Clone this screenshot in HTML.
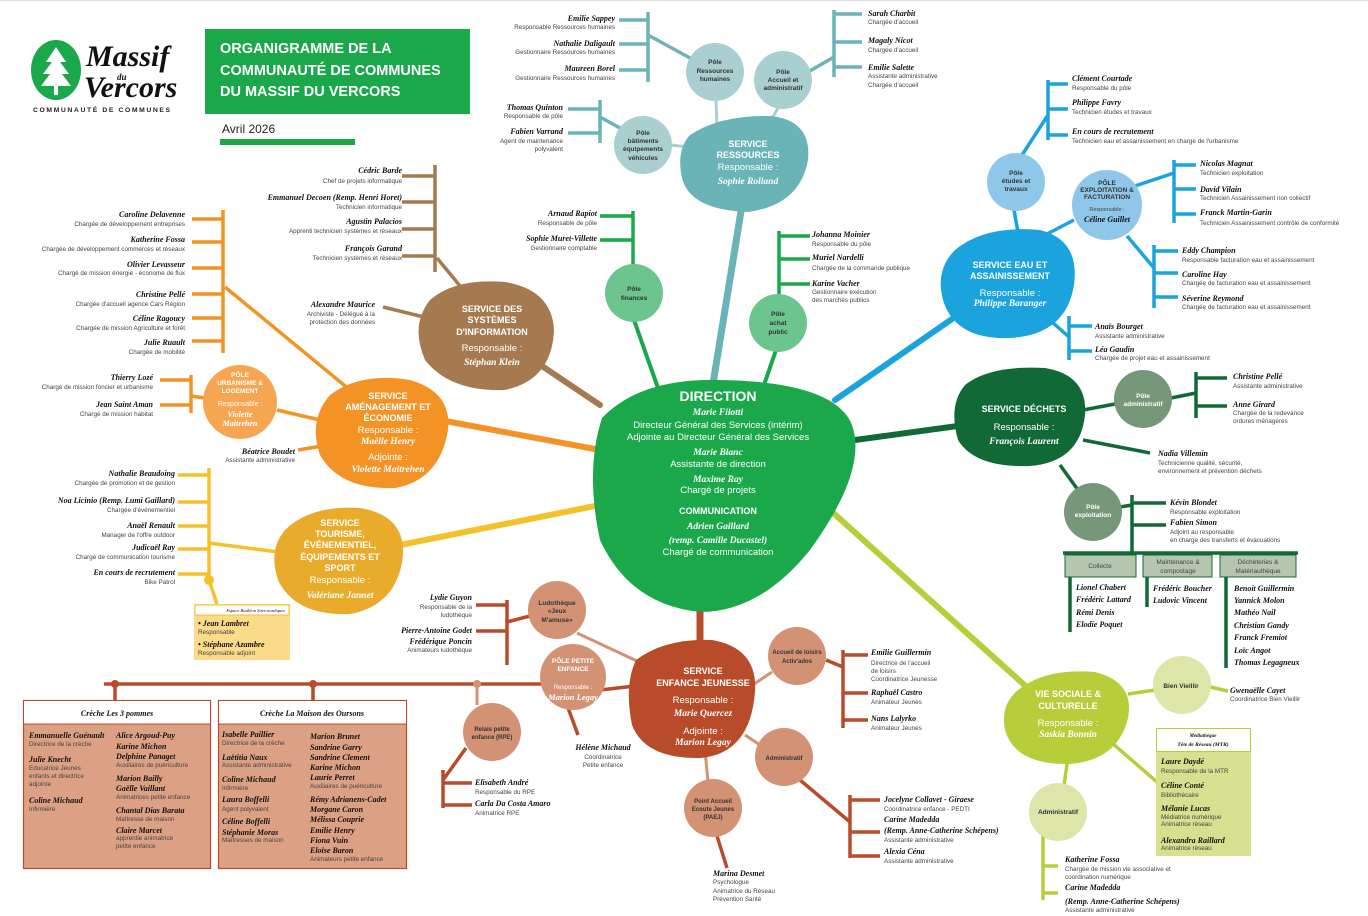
<!DOCTYPE html>
<html><head><meta charset="utf-8"><style>
html,body{margin:0;padding:0;background:#fff;width:1368px;height:916px;overflow:hidden}
svg{display:block}
.n{font:italic bold 8px "Liberation Serif",serif;fill:#111}
.r{font:6.3px "Liberation Sans",sans-serif;fill:#444}
.e{text-anchor:end}
.m{text-anchor:middle}
.ct{font:bold 6.5px "Liberation Sans",sans-serif;fill:#333;text-anchor:middle}
.cw{font:bold 6.5px "Liberation Sans",sans-serif;fill:#fff;text-anchor:middle}
.bt{font:bold 9px "Liberation Sans",sans-serif;fill:#fff;text-anchor:middle}
.bs{font:9.5px "Liberation Sans",sans-serif;fill:#fff;text-anchor:middle}
.bn{font:italic bold 9.5px "Liberation Serif",serif;fill:#fff;text-anchor:middle}
</style></head><body>
<svg width="1368" height="916" viewBox="0 0 1368 916" xmlns="http://www.w3.org/2000/svg">
<rect x="0" y="0" width="1368" height="1" fill="#ddd"/>
<!-- HEADER -->
<ellipse cx="56" cy="70" rx="25" ry="30" fill="#1aa84b"/>
<path d="M56 47 L46 62 L52 62 L43 74 L50 74 L41 86 L54 86 L54 95 L58 95 L58 86 L71 86 L62 74 L69 74 L60 62 L66 62 Z" fill="#fff"/>
<text x="86" y="66" style="font:italic bold 30px 'Liberation Serif',serif;fill:#111">Massif</text>
<text x="117" y="80" style="font:italic bold 9px 'Liberation Serif',serif;fill:#111">du</text>
<text x="84" y="97" style="font:italic bold 30px 'Liberation Serif',serif;fill:#111">Vercors</text>
<text x="33" y="112" style="font:bold 6.8px 'Liberation Sans',sans-serif;fill:#222;letter-spacing:1.6px">COMMUNAUTÉ DE COMMUNES</text>
<rect x="205" y="29" width="265" height="85" fill="#1aa84b"/>
<text x="220" y="53" style="font:bold 14.5px 'Liberation Sans',sans-serif;fill:#fff">ORGANIGRAMME DE LA</text>
<text x="220" y="75" style="font:bold 14.5px 'Liberation Sans',sans-serif;fill:#fff">COMMUNAUTÉ DE COMMUNES</text>
<text x="220" y="96" style="font:bold 14.5px 'Liberation Sans',sans-serif;fill:#fff">DU MASSIF DU VERCORS</text>
<text x="222" y="133" style="font:12px 'Liberation Sans',sans-serif;fill:#222">Avril 2026</text>
<rect x="220" y="139" width="135" height="6" fill="#1aa84b"/>

<!-- CONNECTORS from direction -->
<g stroke-linecap="round" fill="none">
<line x1="712" y1="390" x2="742" y2="205" stroke="#6ab3b7" stroke-width="7"/>
<line x1="658" y1="388" x2="634" y2="320" stroke="#1aa84b" stroke-width="4"/>
<line x1="763" y1="388" x2="776" y2="350" stroke="#1aa84b" stroke-width="4"/>
<line x1="600" y1="405" x2="530" y2="358" stroke="#a57a50" stroke-width="6"/>
<line x1="600" y1="450" x2="440" y2="420" stroke="#f39325" stroke-width="6"/>
<line x1="600" y1="505" x2="400" y2="545" stroke="#f5c12a" stroke-width="6"/>
<line x1="835" y1="400" x2="965" y2="310" stroke="#1aa3dc" stroke-width="6"/>
<line x1="855" y1="440" x2="965" y2="425" stroke="#116936" stroke-width="6"/>
<line x1="830" y1="510" x2="1030" y2="690" stroke="#b8cd3a" stroke-width="6"/>
<line x1="700" y1="590" x2="700" y2="660" stroke="#b84b2a" stroke-width="7"/>
</g>

<!-- RESSOURCES branch -->
<g stroke="#6ab3b7" stroke-width="3.5" fill="none">
<line x1="648" y1="12" x2="648" y2="82"/><line x1="619" y1="20" x2="648" y2="20"/><line x1="619" y1="44" x2="648" y2="44"/><line x1="619" y1="70" x2="648" y2="70"/><line x1="648" y1="35" x2="690" y2="58"/>
<line x1="600" y1="100" x2="600" y2="143"/><line x1="568" y1="109" x2="600" y2="109"/><line x1="568" y1="133" x2="600" y2="133"/><line x1="600" y1="117" x2="620" y2="128"/>
<line x1="834" y1="10" x2="834" y2="77"/><line x1="834" y1="14" x2="862" y2="14"/><line x1="834" y1="42" x2="862" y2="42"/><line x1="834" y1="67" x2="862" y2="67"/><line x1="834" y1="57" x2="808" y2="72"/>
</g>
<g stroke="#a9cfd0" stroke-width="3"><line x1="716" y1="100" x2="717" y2="128"/><line x1="778" y1="108" x2="770" y2="122"/><line x1="671" y1="145" x2="688" y2="147"/></g>
<path d="M690 135 Q720 115 770 116 Q812 120 808 160 Q800 205 748 212 Q690 210 682 178 Q676 150 690 135Z" fill="#6ab3b7"/>
<text class="bt" x="748" y="147">SERVICE</text><text class="bt" x="748" y="158">RESSOURCES</text>
<text class="bs" x="748" y="170">Responsable :</text><text class="bn" x="748" y="184">Sophie Rolland</text>
<circle cx="715" cy="72" r="29" fill="#a9cfd0"/><text class="ct" x="715" y="64">Pôle</text><text class="ct" x="715" y="73">Ressources</text><text class="ct" x="715" y="81">humaines</text>
<circle cx="783" cy="80" r="29" fill="#a9cfd0"/><text class="ct" x="783" y="74">Pôle</text><text class="ct" x="783" y="82">Accueil et</text><text class="ct" x="783" y="90">administratif</text>
<circle cx="643" cy="145" r="29" fill="#a9cfd0"/><text class="ct" x="643" y="135">Pôle</text><text class="ct" x="643" y="143">bâtiments</text><text class="ct" x="643" y="151">équipements</text><text class="ct" x="643" y="160">véhicules</text>
<text class="n e" x="615" y="21">Emilie Sappey</text><text class="r e" x="615" y="29">Responsable Ressources humaines</text>
<text class="n e" x="615" y="46">Nathalie Daligault</text><text class="r e" x="615" y="54">Gestionnaire Ressources humaines</text>
<text class="n e" x="615" y="71">Maureen Borel</text><text class="r e" x="615" y="80">Gestionnaire Ressources humaines</text>
<text class="n e" x="563" y="110">Thomas Quinton</text><text class="r e" x="563" y="118">Responsable de pôle</text>
<text class="n e" x="563" y="134">Fabien Varrand</text><text class="r e" x="563" y="143">Agent de maintenance</text><text class="r e" x="563" y="151">polyvalent</text>
<text class="n" x="868" y="16">Sarah Charbit</text><text class="r" x="868" y="24">Chargée d'accueil</text>
<text class="n" x="868" y="43">Magaly Nicot</text><text class="r" x="868" y="52">Chargée d'accueil</text>
<text class="n" x="868" y="70">Emilie Salette</text><text class="r" x="868" y="78">Assistante administrative</text><text class="r" x="868" y="87">Chargée d'accueil</text>

<!-- FINANCES / ACHAT -->
<g stroke="#1aa84b" stroke-width="3.5"><line x1="633" y1="211" x2="633" y2="266"/><line x1="600" y1="216" x2="633" y2="216"/><line x1="600" y1="240" x2="633" y2="240"/>
<line x1="779" y1="231" x2="779" y2="296"/><line x1="779" y1="236" x2="810" y2="236"/><line x1="779" y1="259" x2="810" y2="259"/><line x1="779" y1="284" x2="810" y2="284"/></g>
<circle cx="634" cy="293" r="29" fill="#6cc48f"/><text class="ct" x="634" y="291">Pôle</text><text class="ct" x="634" y="300">finances</text>
<circle cx="778" cy="323" r="29" fill="#6cc48f"/><text class="ct" x="778" y="316">Pôle</text><text class="ct" x="778" y="325">achat</text><text class="ct" x="778" y="334">public</text>
<text class="n e" x="597" y="216">Arnaud Rapiot</text><text class="r e" x="597" y="225">Responsable de pôle</text>
<text class="n e" x="597" y="241">Sophie Muret-Villette</text><text class="r e" x="597" y="250">Gestionnaire comptable</text>
<text class="n" x="812" y="237">Johanna Moinier</text><text class="r" x="812" y="246">Responsable du pôle</text>
<text class="n" x="812" y="260">Muriel Nardelli</text><text class="r" x="812" y="270">Chargée de la commande publique</text>
<text class="n" x="812" y="286">Karine Vacher</text><text class="r" x="812" y="294">Gestionnaire exécution</text><text class="r" x="812" y="302">des marchés publics</text>

<!-- SI brown -->
<g stroke="#a57a50" stroke-width="3.5"><line x1="435" y1="165" x2="435" y2="272"/><line x1="402" y1="176" x2="435" y2="176"/><line x1="402" y1="202" x2="435" y2="202"/><line x1="402" y1="229" x2="435" y2="229"/><line x1="402" y1="256" x2="435" y2="256"/><line x1="437" y1="258" x2="465" y2="292"/><line x1="383" y1="307" x2="428" y2="318"/></g>
<path d="M430 300 Q455 278 505 282 Q552 290 554 330 Q552 380 505 390 Q450 392 425 360 Q410 325 430 300Z" fill="#a57a50"/>
<text class="bt" x="492" y="312">SERVICE DES</text><text class="bt" x="492" y="323">SYSTÈMES</text><text class="bt" x="492" y="335">D'INFORMATION</text>
<text class="bs" x="492" y="351">Responsable :</text><text class="bn" x="492" y="365">Stéphan Klein</text>
<text class="n e" x="402" y="173">Cédric Barde</text><text class="r e" x="402" y="183">Chef de projets informatique</text>
<text class="n e" x="402" y="200">Emmanuel Decoen (Remp. Henri Horet)</text><text class="r e" x="402" y="209">Technicien informatique</text>
<text class="n e" x="402" y="224">Agustin Palacios</text><text class="r e" x="402" y="233">Apprenti technicien systèmes et réseaux</text>
<text class="n e" x="402" y="251">François Garand</text><text class="r e" x="402" y="260">Technicien systèmes et réseaux</text>
<text class="n e" x="375" y="307">Alexandre Maurice</text><text class="r e" x="375" y="316">Archiviste - Délégué à la</text><text class="r e" x="375" y="324">protection des données</text>

<!-- AMENAGEMENT orange -->
<g stroke="#f39325" stroke-width="3.5"><line x1="223" y1="210" x2="223" y2="353"/><line x1="192" y1="219" x2="223" y2="219"/><line x1="192" y1="242" x2="223" y2="242"/><line x1="192" y1="268" x2="223" y2="268"/><line x1="192" y1="294" x2="223" y2="294"/><line x1="192" y1="318" x2="223" y2="318"/><line x1="192" y1="341" x2="223" y2="341"/><line x1="225" y1="287" x2="350" y2="390"/>
<line x1="191" y1="375" x2="191" y2="413"/><line x1="160" y1="380" x2="191" y2="380"/><line x1="160" y1="405" x2="191" y2="405"/><line x1="191" y1="396" x2="205" y2="398"/><line x1="277" y1="410" x2="320" y2="420"/><line x1="298" y1="450" x2="322" y2="446"/></g>
<path d="M330 395 Q360 372 410 380 Q452 392 448 430 Q440 480 395 488 Q340 490 320 455 Q308 420 330 395Z" fill="#f39325"/>
<text class="bt" x="388" y="399">SERVICE</text><text class="bt" x="388" y="410">AMÉNAGEMENT ET</text><text class="bt" x="388" y="421">ÉCONOMIE</text>
<text class="bs" x="388" y="433">Responsable :</text><text class="bn" x="388" y="444">Maëlle Henry</text>
<text class="bs" x="388" y="460">Adjointe :</text><text class="bn" x="388" y="472">Violette Maitrehen</text>
<circle cx="240" cy="402" r="37" fill="#f6a551"/>
<text class="cw" x="240" y="377">PÔLE</text><text class="cw" x="240" y="385">URBANISME &amp;</text><text class="cw" x="240" y="393">LOGEMENT</text>
<text x="240" y="406" style="font:7px 'Liberation Sans',sans-serif;fill:#fff;text-anchor:middle">Responsable :</text><text class="bn" x="240" y="417" style="font-size:8px">Violette</text><text class="bn" x="240" y="426" style="font-size:8px">Maitrehen</text>
<text class="n e" x="185" y="217">Caroline Delavenne</text><text class="r e" x="185" y="226">Chargée de développement entreprises</text>
<text class="n e" x="185" y="242">Katherine Fossa</text><text class="r e" x="185" y="251">Chargée de développement commerces et réseaux</text>
<text class="n e" x="185" y="267">Olivier Levasseur</text><text class="r e" x="185" y="275">Chargé de mission énergie - économe de flux</text>
<text class="n e" x="185" y="297">Christine Pellé</text><text class="r e" x="185" y="306">Chargée d'accueil agence Cars Région</text>
<text class="n e" x="185" y="321">Céline Ragoucy</text><text class="r e" x="185" y="330">Chargée de mission Agriculture et forêt</text>
<text class="n e" x="185" y="345">Julie Ruault</text><text class="r e" x="185" y="354">Chargée de mobilité</text>
<text class="n e" x="153" y="380">Thierry Lozé</text><text class="r e" x="153" y="389">Chargé de mission foncier et urbanisme</text>
<text class="n e" x="153" y="407">Jean Saint Aman</text><text class="r e" x="153" y="416">Chargé de mission habitat</text>
<text class="n e" x="295" y="454">Béatrice Boudet</text><text class="r e" x="295" y="462">Assistante administrative</text>

<!-- TOURISME yellow -->
<g stroke="#f5c12a" stroke-width="3.5"><line x1="209" y1="468" x2="209" y2="580"/><line x1="178" y1="475" x2="209" y2="475"/><line x1="178" y1="502" x2="209" y2="502"/><line x1="178" y1="526" x2="209" y2="526"/><line x1="178" y1="549" x2="209" y2="549"/><line x1="178" y1="574" x2="209" y2="574"/><line x1="209" y1="543" x2="278" y2="552"/><line x1="209" y1="580" x2="217" y2="604"/></g>
<circle cx="209" cy="580" r="5" fill="#f5c12a"/>
<path d="M285 530 Q310 505 360 508 Q405 515 403 555 Q398 605 350 614 Q295 616 278 580 Q268 550 285 530Z" fill="#e9ab2b"/>
<text class="bt" x="340" y="526">SERVICE</text><text class="bt" x="340" y="537">TOURISME,</text><text class="bt" x="340" y="548">ÉVÉNEMENTIEL,</text><text class="bt" x="340" y="560">ÉQUIPEMENTS ET</text><text class="bt" x="340" y="571">SPORT</text>
<text class="bs" x="340" y="583">Responsable :</text><text class="bn" x="340" y="598">Valériane Jannet</text>
<text class="n e" x="175" y="476">Nathalie Beaudoing</text><text class="r e" x="175" y="485">Chargée de promotion et de gestion</text>
<text class="n e" x="175" y="503">Noa Licinio (Remp. Lumi Gaillard)</text><text class="r e" x="175" y="512">Chargée d'événementiel</text>
<text class="n e" x="175" y="528">Anaël Renault</text><text class="r e" x="175" y="537">Manager de l'offre outdoor</text>
<text class="n e" x="175" y="550">Judicaël Ray</text><text class="r e" x="175" y="559">Chargé de communication tourisme</text>
<text class="n e" x="175" y="575">En cours de recrutement</text><text class="r e" x="175" y="584">Bike Patrol</text>
<rect x="194" y="604" width="96" height="56" fill="#fadb8a"/>
<rect x="195" y="605" width="94" height="10" fill="#fff" stroke="#f5c12a" stroke-width="1"/>
<text x="285" y="612" style="font:italic 4.5px 'Liberation Serif',serif;fill:#111;text-anchor:end">Espace Biathlon Sites-nordiques</text>
<text class="n" x="198" y="626">• Jean Lambret</text><text class="r" x="198" y="634">Responsable</text>
<text class="n" x="198" y="647">• Stéphane Azambre</text><text class="r" x="198" y="655">Responsable adjoint</text>

<!-- DIRECTION -->
<path d="M602 418 Q640 378 720 380 Q835 382 852 425 Q868 470 810 550 Q760 612 700 612 Q630 605 600 540 Q585 470 602 418Z" fill="#1aa84b"/>
<text x="718" y="401" style="font:bold 14px 'Liberation Sans',sans-serif;fill:#fff;text-anchor:middle">DIRECTION</text>
<text class="bn" x="718" y="415">Marie Filotti</text>
<text class="bs" x="718" y="428">Directeur Général des Services (intérim)</text>
<text class="bs" x="718" y="440">Adjointe au Directeur Général des Services</text>
<text class="bn" x="718" y="455">Marie Blanc</text>
<text class="bs" x="718" y="467">Assistante de direction</text>
<text class="bn" x="718" y="482">Maxime Ray</text>
<text class="bs" x="718" y="493">Chargé de projets</text>
<text class="bt" x="718" y="514">COMMUNICATION</text>
<text class="bn" x="718" y="529">Adrien Gaillard</text>
<text class="bn" x="718" y="543">(remp. Camille Ducastel)</text>
<text class="bs" x="718" y="555">Chargé de communication</text>

<!-- EAU blue -->
<g stroke="#1aa3dc" stroke-width="3.5"><line x1="1048" y1="80" x2="1048" y2="140"/><line x1="1048" y1="84" x2="1068" y2="84"/><line x1="1048" y1="109" x2="1068" y2="109"/><line x1="1048" y1="135" x2="1068" y2="135"/><line x1="1048" y1="115" x2="1022" y2="155"/>
<line x1="1174" y1="160" x2="1174" y2="223"/><line x1="1174" y1="165" x2="1196" y2="165"/><line x1="1174" y1="189" x2="1196" y2="189"/><line x1="1174" y1="214" x2="1196" y2="214"/><line x1="1174" y1="173" x2="1135" y2="186"/>
<line x1="1154" y1="245" x2="1154" y2="308"/><line x1="1154" y1="251" x2="1178" y2="251"/><line x1="1154" y1="273" x2="1178" y2="273"/><line x1="1154" y1="297" x2="1178" y2="297"/><line x1="1127" y1="236" x2="1154" y2="268"/>
<line x1="1069" y1="316" x2="1069" y2="360"/><line x1="1069" y1="326" x2="1092" y2="326"/><line x1="1069" y1="351" x2="1092" y2="351"/><line x1="1052" y1="322" x2="1069" y2="337"/>
<line x1="1014" y1="210" x2="1018" y2="232"/><line x1="1074" y1="220" x2="1045" y2="235"/></g>
<path d="M955 250 Q985 225 1040 230 Q1080 240 1074 285 Q1066 335 1010 338 Q955 340 943 300 Q935 270 955 250Z" fill="#1aa3dc"/>
<text class="bt" x="1010" y="268">SERVICE EAU ET</text><text class="bt" x="1010" y="279">ASSAINISSEMENT</text>
<text class="bs" x="1010" y="296">Responsable :</text><text class="bn" x="1010" y="306">Philippe Baranger</text>
<circle cx="1016" cy="182" r="29" fill="#8fc7eb"/><text class="ct" x="1016" y="175">Pôle</text><text class="ct" x="1016" y="183">études et</text><text class="ct" x="1016" y="191">travaux</text>
<circle cx="1107" cy="205" r="35" fill="#8fc7eb"/><text class="ct" x="1107" y="185">PÔLE</text><text class="ct" x="1107" y="192">EXPLOITATION &amp;</text><text class="ct" x="1107" y="199">FACTURATION</text>
<text x="1107" y="211" style="font:5.5px 'Liberation Sans',sans-serif;fill:#444;text-anchor:middle">Responsable :</text><text class="n m" x="1107" y="222">Céline Guillet</text>
<text class="n" x="1072" y="81">Clément Courtade</text><text class="r" x="1072" y="90">Responsable du pôle</text>
<text class="n" x="1072" y="105">Philippe Favry</text><text class="r" x="1072" y="114">Technicien études et travaux</text>
<text class="n" x="1072" y="134">En cours de recrutement</text><text class="r" x="1072" y="143">Technicien eau et assainissement en charge de l'urbanisme</text>
<text class="n" x="1200" y="166">Nicolas Magnat</text><text class="r" x="1200" y="175">Technicien exploitation</text>
<text class="n" x="1200" y="192">David Vilain</text><text class="r" x="1200" y="200">Technicien Assainissement non collectif</text>
<text class="n" x="1200" y="215">Franck Martin-Garin</text><text class="r" x="1200" y="225">Technicien Assainissement contrôle de conformité</text>
<text class="n" x="1182" y="253">Eddy Champion</text><text class="r" x="1182" y="262">Responsable facturation eau et assainissement</text>
<text class="n" x="1182" y="277">Caroline Hay</text><text class="r" x="1182" y="285">Chargée de facturation eau et assainissement</text>
<text class="n" x="1182" y="301">Séverine Reymond</text><text class="r" x="1182" y="309">Chargée de facturation eau et assainissement</text>
<text class="n" x="1095" y="329">Anaïs Bourget</text><text class="r" x="1095" y="338">Assistante administrative</text>
<text class="n" x="1095" y="352">Léa Gaudin</text><text class="r" x="1095" y="360">Chargée de projet eau et assainissement</text>

<!-- DECHETS -->
<g stroke="#116936" stroke-width="3.5"><line x1="1083" y1="410" x2="1115" y2="404"/><line x1="1196" y1="372" x2="1196" y2="418"/><line x1="1196" y1="378" x2="1227" y2="378"/><line x1="1196" y1="406" x2="1227" y2="406"/><line x1="1171" y1="398" x2="1196" y2="393"/>
<line x1="1083" y1="440" x2="1150" y2="453"/><line x1="1060" y1="465" x2="1078" y2="490"/>
<line x1="1132" y1="495" x2="1132" y2="553"/><line x1="1132" y1="503" x2="1166" y2="503"/><line x1="1132" y1="525" x2="1166" y2="525"/><line x1="1120" y1="507" x2="1132" y2="505"/>
<line x1="1063" y1="553" x2="1298" y2="553"/><line x1="1070" y1="577" x2="1070" y2="632"/><line x1="1147" y1="577" x2="1147" y2="607"/><line x1="1226" y1="577" x2="1226" y2="668"/></g>
<path d="M965 385 Q990 365 1045 368 Q1088 375 1085 415 Q1080 462 1030 466 Q975 468 958 440 Q948 405 965 385Z" fill="#116936"/>
<text class="bt" x="1024" y="412">SERVICE DÉCHETS</text><text class="bs" x="1024" y="430">Responsable :</text><text class="bn" x="1024" y="444">François Laurent</text>
<circle cx="1143" cy="399" r="29" fill="#77977a"/><text class="cw" x="1143" y="398">Pôle</text><text class="cw" x="1143" y="406">administratif</text>
<circle cx="1093" cy="512" r="29" fill="#77977a"/><text class="cw" x="1093" y="509">Pôle</text><text class="cw" x="1093" y="517">exploitation</text>
<text class="n" x="1233" y="379">Christine Pellé</text><text class="r" x="1233" y="388">Assistante administrative</text>
<text class="n" x="1233" y="407">Anne Girard</text><text class="r" x="1233" y="415">Chargée de la redevance</text><text class="r" x="1233" y="423">ordures ménagères</text>
<text class="n" x="1158" y="456">Nadia Villemin</text><text class="r" x="1158" y="465">Technicienne qualité, sécurité,</text><text class="r" x="1158" y="473">environnement et prévention déchets</text>
<text class="n" x="1170" y="505">Kévin Blondet</text><text class="r" x="1170" y="514">Responsable exploitation</text>
<text class="n" x="1170" y="525">Fabien Simon</text><text class="r" x="1170" y="534">Adjoint au responsable</text><text class="r" x="1170" y="542">en charge des transferts et évacuations</text>
<rect x="1065" y="555" width="71" height="22" fill="#b5c6b0" stroke="#116936" stroke-width="1"/><text x="1100" y="568" style="font:6.5px 'Liberation Sans',sans-serif;fill:#444;text-anchor:middle">Collecte</text>
<rect x="1143" y="555" width="69" height="22" fill="#b5c6b0" stroke="#116936" stroke-width="1"/><text x="1178" y="564" style="font:6.5px 'Liberation Sans',sans-serif;fill:#444;text-anchor:middle">Maintenance &amp;</text><text x="1178" y="573" style="font:6.5px 'Liberation Sans',sans-serif;fill:#444;text-anchor:middle">compostage</text>
<rect x="1220" y="555" width="76" height="22" fill="#b5c6b0" stroke="#116936" stroke-width="1"/><text x="1258" y="564" style="font:6.5px 'Liberation Sans',sans-serif;fill:#444;text-anchor:middle">Déchèteries &amp;</text><text x="1258" y="573" style="font:6.5px 'Liberation Sans',sans-serif;fill:#444;text-anchor:middle">Matériauthèque</text>
<text class="n" x="1076" y="590">Lionel Chabert</text><text class="n" x="1076" y="602">Frédéric Lattard</text><text class="n" x="1076" y="615">Rémi Denis</text><text class="n" x="1076" y="627">Elodie Poquet</text>
<text class="n" x="1153" y="591">Frédéric Boucher</text><text class="n" x="1153" y="603">Ludovic Vincent</text>
<text class="n" x="1234" y="591">Benoit Guillermin</text><text class="n" x="1234" y="603">Yannick Molon</text><text class="n" x="1234" y="615">Mathéo Nail</text><text class="n" x="1234" y="628">Christian Gandy</text><text class="n" x="1234" y="640">Franck Fremiot</text><text class="n" x="1234" y="653">Loïc Angot</text><text class="n" x="1234" y="665">Thomas Legagneux</text>

<!-- VIE SOCIALE lime -->
<g stroke="#b8cd3a" stroke-width="3.5"><line x1="1128" y1="694" x2="1155" y2="690"/><line x1="1210" y1="687" x2="1228" y2="691"/><line x1="1112" y1="743" x2="1157" y2="782"/><line x1="1068" y1="758" x2="1064" y2="785"/>
<line x1="1043" y1="835" x2="1043" y2="900"/><line x1="1043" y1="866" x2="1058" y2="866"/><line x1="1043" y1="893" x2="1058" y2="893"/></g>
<path d="M1018 690 Q1045 668 1095 672 Q1135 682 1128 718 Q1118 760 1070 764 Q1015 765 1005 730 Q1000 705 1018 690Z" fill="#b8cd3a"/>
<text class="bt" x="1068" y="697">VIE SOCIALE &amp;</text><text class="bt" x="1068" y="709">CULTURELLE</text>
<text class="bs" x="1068" y="726">Responsable :</text><text class="bn" x="1068" y="737">Saskia Bonnin</text>
<circle cx="1182" cy="685" r="29" fill="#dde6a8"/><text class="ct" x="1181" y="688">Bien Vieillir</text>
<circle cx="1058" cy="812" r="29" fill="#dde6a8"/><text class="ct" x="1058" y="814">Administratif</text>
<text class="n" x="1230" y="693">Gwenaëlle Cayet</text><text class="r" x="1230" y="701">Coordinatrice Bien Vieillir</text>
<rect x="1156" y="728" width="95" height="128" fill="#d6e08f"/>
<rect x="1156.5" y="728.5" width="94" height="23" fill="#fff" stroke="#b8cd3a" stroke-width="1"/>
<text x="1203" y="737" style="font:italic bold 5px 'Liberation Serif',serif;fill:#111;text-anchor:middle">Médiathèque</text><text x="1203" y="746" style="font:italic bold 5.5px 'Liberation Serif',serif;fill:#111;text-anchor:middle">Tête de Réseau (MTR)</text>
<text class="n" x="1161" y="764">Laure Daydé</text><text class="r" x="1161" y="773">Responsable de la MTR</text>
<text class="n" x="1161" y="788">Céline Conté</text><text class="r" x="1161" y="797">Bibliothécaire</text>
<text class="n" x="1161" y="811">Mélanie Lucas</text><text class="r" x="1161" y="819">Médiatrice numérique</text><text class="r" x="1161" y="826">Animatrice réseau</text>
<text class="n" x="1161" y="843">Alexandra Raillard</text><text class="r" x="1161" y="850">Animatrice réseau</text>
<text class="n" x="1065" y="862">Katherine Fossa</text><text class="r" x="1065" y="871">Chargée de mission vie associative et</text><text class="r" x="1065" y="879">coordination numérique</text>
<text class="n" x="1065" y="890">Carine Madedda</text><text class="n" x="1065" y="904">(Remp. Anne-Catherine Schépens)</text><text class="r" x="1065" y="912">Assistante administrative</text>

<!-- ENFANCE JEUNESSE rust -->
<g stroke="#b84b2a" stroke-width="3.5"><line x1="104" y1="684" x2="545" y2="684"/><line x1="115" y1="684" x2="115" y2="700"/><line x1="313" y1="684" x2="313" y2="700"/>
<line x1="507" y1="600" x2="507" y2="665"/><line x1="476" y1="605" x2="507" y2="605"/><line x1="476" y1="631" x2="507" y2="631"/><line x1="507" y1="622" x2="530" y2="616"/>
<line x1="443" y1="770" x2="443" y2="808"/><line x1="443" y1="783" x2="472" y2="783"/><line x1="443" y1="805" x2="472" y2="805"/><line x1="443" y1="780" x2="466" y2="748"/>
<line x1="567" y1="705" x2="578" y2="735"/><line x1="600" y1="690" x2="635" y2="686"/>
<line x1="843" y1="650" x2="843" y2="728"/><line x1="843" y1="655" x2="868" y2="655"/><line x1="843" y1="693" x2="868" y2="693"/><line x1="843" y1="720" x2="868" y2="720"/><line x1="826" y1="660" x2="843" y2="667"/>
<line x1="800" y1="780" x2="850" y2="822"/><line x1="850" y1="795" x2="850" y2="858"/><line x1="850" y1="800" x2="880" y2="800"/><line x1="850" y1="832" x2="880" y2="832"/><line x1="850" y1="856" x2="880" y2="856"/>
<line x1="717" y1="836" x2="727" y2="868"/></g>
<g stroke="#d39273" stroke-width="3"><line x1="477" y1="684" x2="477" y2="705"/><line x1="577" y1="633" x2="652" y2="668"/><line x1="748" y1="688" x2="772" y2="672"/><line x1="745" y1="735" x2="760" y2="745"/><line x1="705" y1="750" x2="708" y2="782"/></g>
<circle cx="115" cy="684" r="4" fill="#b84b2a"/><circle cx="313" cy="684" r="4" fill="#b84b2a"/><circle cx="477" cy="684" r="4" fill="#d39273"/>
<path d="M636 660 Q665 638 712 640 Q758 648 755 692 Q750 754 700 758 Q645 759 632 725 Q624 685 636 660Z" fill="#b84b2a"/>
<text class="bt" x="703" y="674">SERVICE</text><text class="bt" x="703" y="686">ENFANCE JEUNESSE</text>
<text class="bs" x="703" y="703">Responsable :</text><text class="bn" x="703" y="716">Marie Quercez</text>
<text class="bs" x="703" y="734">Adjointe :</text><text class="bn" x="703" y="745">Marion Legay</text>
<circle cx="557" cy="610" r="29" fill="#d39273"/><text class="ct" x="557" y="605">Ludothèque</text><text class="ct" x="557" y="613">«Jeux</text><text class="ct" x="557" y="622">M'amuse»</text>
<circle cx="573" cy="677" r="33" fill="#d39273"/><text class="cw" x="573" y="663">PÔLE PETITE</text><text class="cw" x="573" y="671">ENFANCE</text><text x="573" y="689" style="font:6px 'Liberation Sans',sans-serif;fill:#fff;text-anchor:middle">Responsable :</text><text class="bn" x="573" y="700" style="font-size:8.5px">Marion Legay</text>
<circle cx="492" cy="732" r="29" fill="#d39273"/><text class="ct" x="492" y="731" style="font-size:6px">Relais petite</text><text class="ct" x="492" y="739" style="font-size:6px">enfance (RPE)</text>
<circle cx="797" cy="656" r="29" fill="#d39273"/><text class="ct" x="797" y="654" style="font-size:6px">Accueil de loisirs</text><text class="ct" x="797" y="663" style="font-size:6px">Activ'ados</text>
<circle cx="784" cy="757" r="29" fill="#d39273"/><text class="ct" x="784" y="760" style="font-size:6px">Administratif</text>
<circle cx="713" cy="808" r="29" fill="#d39273"/><text class="ct" x="713" y="803" style="font-size:6px">Point Accueil</text><text class="ct" x="713" y="811" style="font-size:6px">Ecoute Jeunes</text><text class="ct" x="713" y="819" style="font-size:6px">(PAEJ)</text>
<text class="n e" x="472" y="600">Lydie Guyon</text><text class="r e" x="472" y="609">Responsable de la</text><text class="r e" x="472" y="617">ludothèque</text>
<text class="n e" x="472" y="633">Pierre-Antoine Godet</text><text class="n e" x="472" y="644">Frédérique Poncin</text><text class="r e" x="472" y="652">Animateurs ludothèque</text>
<text class="n m" x="603" y="750">Hélène Michaud</text><text class="r m" x="603" y="759">Coordinatrice</text><text class="r m" x="603" y="767">Petite enfance</text>
<text class="n" x="475" y="785">Elisabeth André</text><text class="r" x="475" y="794">Responsable du  RPE</text>
<text class="n" x="475" y="806">Carla Da Costa Amaro</text><text class="r" x="475" y="815">Animatrice RPE</text>
<text class="n" x="871" y="655">Emilie Guillermin</text><text class="r" x="871" y="665">Directrice de l'accueil</text><text class="r" x="871" y="673">de loisirs</text><text class="r" x="871" y="681">Coordinatrice Jeunesse</text>
<text class="n" x="871" y="695">Raphaël Castro</text><text class="r" x="871" y="704">Animateur Jeunes</text>
<text class="n" x="871" y="721">Nans Lalyrko</text><text class="r" x="871" y="730">Animateur Jeunes</text>
<text class="n" x="884" y="802">Jocelyne Collavet - Giraese</text><text class="r" x="884" y="811">Coordinatrice enfance - PEDTI</text>
<text class="n" x="884" y="822">Carine Madedda</text><text class="n" x="884" y="833">(Remp. Anne-Catherine Schépens)</text><text class="r" x="884" y="842">Assistante administrative</text>
<text class="n" x="884" y="854">Alexia Céna</text><text class="r" x="884" y="863">Assistante administrative</text>
<text class="n" x="713" y="876">Marina Desmet</text><text class="r" x="713" y="884">Psychologue</text><text class="r" x="713" y="893">Animatrice du Réseau</text><text class="r" x="713" y="901">Prévention Santé</text>

<!-- CRECHES -->
<rect x="23.5" y="700.5" width="187" height="168" fill="#dca184" stroke="#b84b2a" stroke-width="1.2"/>
<rect x="24" y="701" width="186" height="23" fill="#fff"/><line x1="23.5" y1="724" x2="210.5" y2="724" stroke="#b84b2a" stroke-width="1"/>
<text class="n m" x="117" y="716">Crèche Les 3 pommes</text>
<rect x="218.5" y="700.5" width="188" height="168" fill="#dca184" stroke="#b84b2a" stroke-width="1.2"/>
<rect x="219" y="701" width="187" height="23" fill="#fff"/><line x1="218.5" y1="724" x2="406.5" y2="724" stroke="#b84b2a" stroke-width="1"/>
<text class="n m" x="312" y="716">Crèche La Maison des Oursons</text>
<g>
<text class="n" x="29" y="738">Emmanuelle Guénault</text><text class="r" x="29" y="746">Directrice de la crèche</text>
<text class="n" x="29" y="762">Julie Knecht</text><text class="r" x="29" y="770">Educatrice Jeunes</text><text class="r" x="29" y="778">enfants et directrice</text><text class="r" x="29" y="786">adjointe</text>
<text class="n" x="29" y="803">Coline Michaud</text><text class="r" x="29" y="811">Infirmière</text>
<text class="n" x="116" y="738">Alice Argoud-Puy</text><text class="n" x="116" y="749">Karine Michon</text><text class="n" x="116" y="759">Delphine Panaget</text><text class="r" x="116" y="767">Auxiliaires de puériculture</text>
<text class="n" x="116" y="781">Marion Bailly</text><text class="n" x="116" y="791">Gaëlle Vaillant</text><text class="r" x="116" y="799">Animatrices petite enfance</text>
<text class="n" x="116" y="813">Chantal Dias Barata</text><text class="r" x="116" y="821">Maîtresse de maison</text>
<text class="n" x="116" y="833">Claire Marcet</text><text class="r" x="116" y="840">apprentie animatrice</text><text class="r" x="116" y="848">petite enfance</text>
<text class="n" x="222" y="737">Isabelle Paillier</text><text class="r" x="222" y="745">Directrice de la crèche</text>
<text class="n" x="222" y="760">Laëtitia Naux</text><text class="r" x="222" y="767">Assistante administrative</text>
<text class="n" x="222" y="782">Coline Michaud</text><text class="r" x="222" y="790">Infirmière</text>
<text class="n" x="222" y="802">Laura Boffelli</text><text class="r" x="222" y="811">Agent polyvalent</text>
<text class="n" x="222" y="824">Céline Boffelli</text><text class="n" x="222" y="835">Stéphanie Moras</text><text class="r" x="222" y="842">Maîtresses de maison</text>
<text class="n" x="310" y="739">Marion Brunet</text><text class="n" x="310" y="750">Sandrine Garry</text><text class="n" x="310" y="760">Sandrine Clement</text><text class="n" x="310" y="770">Karine Michon</text><text class="n" x="310" y="780">Laurie Perret</text><text class="r" x="310" y="788">Auxiliaires de puériculture</text>
<text class="n" x="310" y="802">Rémy Adrianens-Cadet</text><text class="n" x="310" y="812">Morgane Caron</text><text class="n" x="310" y="822">Mélissa Couprie</text><text class="n" x="310" y="833">Emilie Henry</text><text class="n" x="310" y="843">Fiona Vuin</text><text class="n" x="310" y="853">Eloïse Baron</text><text class="r" x="310" y="861">Animateurs petite enfance</text>
</g>
</svg>
</body></html>
